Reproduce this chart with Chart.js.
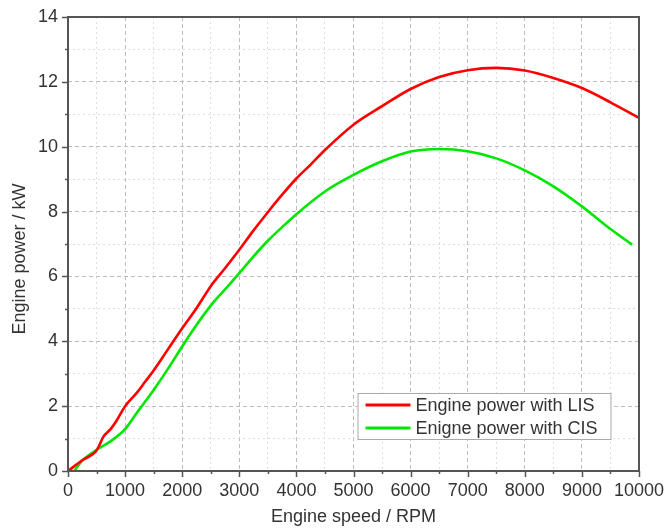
<!DOCTYPE html>
<html>
<head>
<meta charset="utf-8">
<script src="https://cdn.jsdelivr.net/npm/chart.js@4.4.0/dist/chart.umd.min.js"></script>
<style>
  html, body { margin: 0; padding: 0; background: #fff; }
</style>
</head>
<body>
<canvas id="power_chart" width="668" height="529"></canvas>
<script>
// engine power with LIS (red)
const lis_rpm = [0, 250, 500, 550, 620, 750, 850, 1000, 1200, 1350, 1500, 1750, 2000, 2250, 2500, 2750, 3000,
  3250, 3500, 3750, 4000, 4250, 4500, 5000, 5500, 6000, 6500, 7000, 7500, 8000, 8500, 9000, 9500, 10000];
const lis_power = [0, 0.33, 0.63, 0.8, 1.06, 1.3, 1.55, 2.0, 2.4, 2.75, 3.1, 3.75, 4.4, 5.02, 5.7, 6.25, 6.82,
  7.42, 7.98, 8.52, 9.02, 9.45, 9.9, 10.68, 11.25, 11.78, 12.15, 12.36, 12.43, 12.35, 12.12, 11.81, 11.37, 10.89];

// engine power with CIS (green)
const cis_rpm = [110, 250, 500, 750, 1000, 1200, 1500, 1750, 2000, 2250, 2500, 2750, 3000,
  3250, 3500, 3750, 4000, 4500, 5000, 5500, 6000, 6500, 7000, 7500, 8000, 8500, 9000, 9500, 9880];
const cis_power = [0, 0.32, 0.65, 0.92, 1.29, 1.78, 2.5, 3.15, 3.84, 4.5, 5.1, 5.6, 6.1,
  6.62, 7.1, 7.52, 7.92, 8.62, 9.13, 9.55, 9.85, 9.93, 9.86, 9.64, 9.27, 8.78, 8.16, 7.46, 6.98];

const series_names = ["Engine power with LIS", "Enigne power with CIS"];
const series_colors = ["#ff0000", "#00e600"];

const x_min = 0, x_max = 10000, x_major = 1000, x_minor = 500;
const y_min = 0, y_max = 14, y_major = 2, y_minor = 1;

const font_family = "'Liberation Sans', Arial, sans-serif";
const text_color = "#333";

const toPoints = (xs, ys) => xs.map((x, i) => ({ x: x, y: ys[i] }));

const isMajor = (v, step) => Math.abs(v / step - Math.round(v / step)) < 1e-6;

const gridColor = (step) => (ctx) =>
  ctx.tick && isMajor(ctx.tick.value, step) ? "#bdbdbd" : "#dedede";
const gridDash = (step) => (ctx) =>
  ctx.tick && isMajor(ctx.tick.value, step) ? [4, 3] : [2, 3];

// box, outward ticks, legend and y title
const framePlugin = {
  id: "frame",
  afterDatasetsDraw(chart) {
    const { ctx, chartArea: a, scales } = chart;
    ctx.save();
    ctx.strokeStyle = "#555";
    ctx.lineWidth = 2;
    ctx.strokeRect(a.left, a.top, a.right - a.left, a.bottom - a.top);

    ctx.lineWidth = 1.5;
    ctx.beginPath();
    for (let v = x_min; v <= x_max; v += x_minor) {
      const px = Math.round(scales.x.getPixelForValue(v)) + 0.5;
      const len = isMajor(v, x_major) ? 6 : 3;
      ctx.moveTo(px, a.bottom);
      ctx.lineTo(px, a.bottom + len);
    }
    for (let v = y_min; v <= y_max; v += y_minor) {
      const py = Math.round(scales.y.getPixelForValue(v)) + 0.5;
      const len = isMajor(v, y_major) ? 6 : 3;
      ctx.moveTo(a.left, py);
      ctx.lineTo(a.left - len, py);
    }
    ctx.stroke();

    // legend
    const lx = a.left + (a.right - a.left) * 0.507;
    const ly = a.bottom - 78;
    const lw = 253, lh = 46;
    ctx.fillStyle = "#fff";
    ctx.fillRect(lx, ly, lw, lh);
    ctx.strokeStyle = "#aaa";
    ctx.lineWidth = 1;
    ctx.strokeRect(lx + 0.5, ly + 0.5, lw, lh);
    ctx.font = "18px " + font_family;
    ctx.textBaseline = "middle";
    series_names.forEach((name, i) => {
      const cy = ly + 12 + i * 23;
      ctx.strokeStyle = series_colors[i];
      ctx.lineWidth = 3;
      ctx.beginPath();
      ctx.moveTo(lx + 8, cy);
      ctx.lineTo(lx + 53, cy);
      ctx.stroke();
      ctx.fillStyle = text_color;
      ctx.fillText(name, lx + 58, cy + 1);
    });

    // y title
    ctx.save();
    ctx.translate(20, (a.top + a.bottom) / 2 + 15);
    ctx.rotate(-Math.PI / 2);
    ctx.textAlign = "center";
    ctx.textBaseline = "middle";
    ctx.fillStyle = text_color;
    ctx.font = "18px " + font_family;
    ctx.fillText("Engine power / kW", 0, 0);
    ctx.restore();

    ctx.restore();
  },
};

const power_config = {
  type: "line",
  data: {
    datasets: [
      {
        label: series_names[0],
        data: toPoints(lis_rpm, lis_power),
        borderColor: series_colors[0],
        borderWidth: 2.6,
        pointRadius: 0,
        cubicInterpolationMode: "monotone",
      },
      {
        label: series_names[1],
        data: toPoints(cis_rpm, cis_power),
        borderColor: series_colors[1],
        borderWidth: 2.6,
        pointRadius: 0,
        cubicInterpolationMode: "monotone",
      },
    ],
  },
  options: {
    responsive: false,
    animation: false,
    devicePixelRatio: 1,
    layout: { padding: { left: 0, top: 17, right: 29, bottom: 0 } },
    plugins: {
      legend: { display: false },
      tooltip: { enabled: false },
    },
    scales: {
      x: {
        type: "linear",
        min: x_min,
        max: x_max,
        afterFit: (s) => {
          s.height = 58;
          s.paddingLeft = 0;
          s.paddingRight = 0;
        },
        ticks: {
          stepSize: x_minor,
          autoSkip: false,
          maxRotation: 0,
          padding: 9,
          color: text_color,
          font: { family: font_family, size: 18 },
          callback: (v) => (isMajor(v, x_major) ? v : ""),
        },
        grid: {
          drawTicks: false,
          color: gridColor(x_major),
          lineWidth: 1,
        },
        border: { display: false, dash: gridDash(x_major) },
        title: {
          display: true,
          text: "Engine speed / RPM",
          color: text_color,
          font: { family: font_family, size: 18 },
          padding: { top: 0, bottom: 1 },
        },
      },
      y: {
        min: y_min,
        max: y_max,
        afterFit: (s) => {
          s.width = 68;
          s.paddingTop = 0;
          s.paddingBottom = 0;
        },
        ticks: {
          stepSize: y_minor,
          autoSkip: false,
          padding: 10,
          color: text_color,
          font: { family: font_family, size: 18 },
          callback: (v) => (isMajor(v, y_major) ? v : ""),
        },
        grid: {
          drawTicks: false,
          color: gridColor(y_major),
          lineWidth: 1,
        },
        border: { display: false, dash: gridDash(y_major) },
      },
    },
  },
  plugins: [framePlugin],
};

const power_chart = new Chart(document.getElementById("power_chart"), power_config);
</script>
</body>
</html>
